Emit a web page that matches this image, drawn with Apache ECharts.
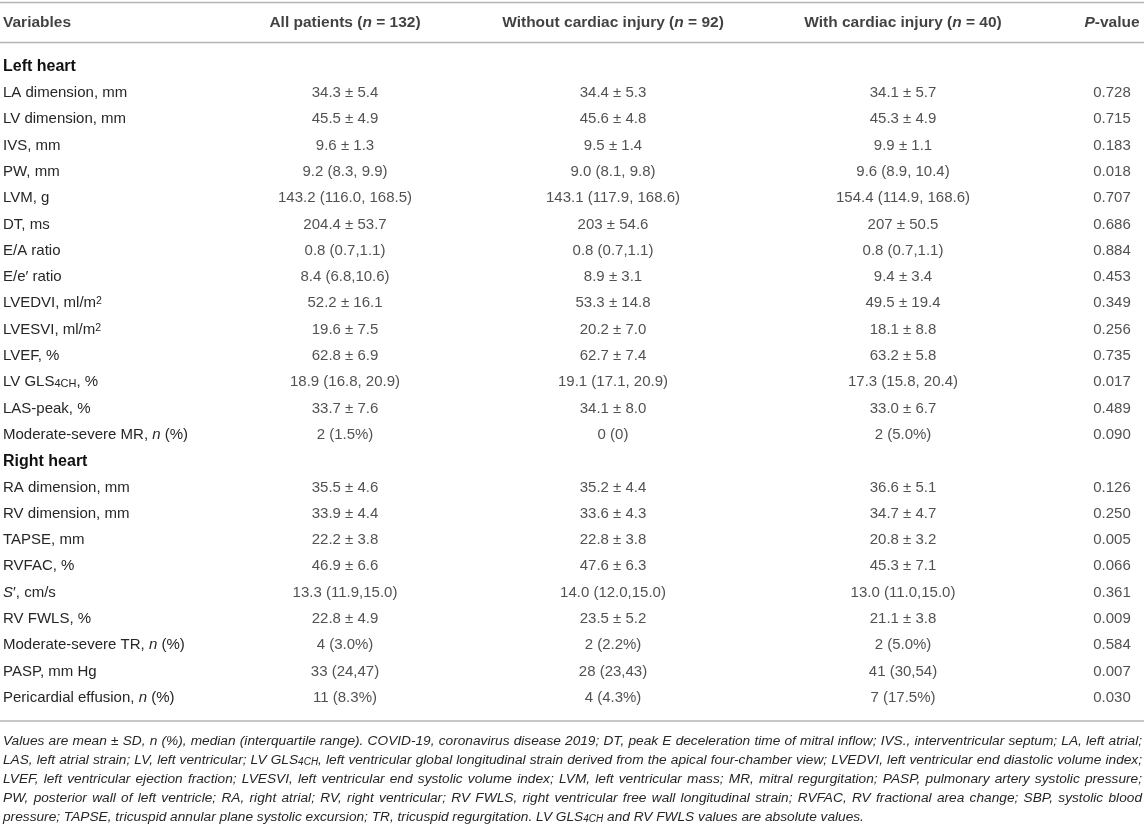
<!DOCTYPE html>
<html>
<head>
<meta charset="utf-8">
<script src="https://cdn.jsdelivr.net/npm/echarts@6/dist/echarts.min.js"></script>
<style>
  html, body { margin: 0; padding: 0; background: #fff; }
  #main { width: 1144px; height: 829px; }
</style>
</head>
<body>
<div id="main"></div>
<script>
// table content
var headers = ['Variables', 'All patients (n = 132)', 'Without cardiac injury (n = 92)', 'With cardiac injury (n = 40)', 'P-value'];
var sectionRows = ['Left heart', 'Right heart'];
var rowLabels = [
  'Left heart', 'LA dimension, mm', 'LV dimension, mm', 'IVS, mm', 'PW, mm', 'LVM, g', 'DT, ms',
  'E/A ratio', 'E/e′ ratio', 'LVEDVI, ml/m2', 'LVESVI, ml/m2', 'LVEF, %', 'LV GLS4CH, %',
  'LAS-peak, %', 'Moderate-severe MR, n (%)',
  'Right heart', 'RA dimension, mm', 'RV dimension, mm', 'TAPSE, mm', 'RVFAC, %', 'S′, cm/s',
  'RV FWLS, %', 'Moderate-severe TR, n (%)', 'PASP, mm Hg', 'Pericardial effusion, n (%)'
];
var allPatients = ['', '34.3 ± 5.4', '45.5 ± 4.9', '9.6 ± 1.3', '9.2 (8.3, 9.9)', '143.2 (116.0, 168.5)', '204.4 ± 53.7',
  '0.8 (0.7,1.1)', '8.4 (6.8,10.6)', '52.2 ± 16.1', '19.6 ± 7.5', '62.8 ± 6.9', '18.9 (16.8, 20.9)',
  '33.7 ± 7.6', '2 (1.5%)',
  '', '35.5 ± 4.6', '33.9 ± 4.4', '22.2 ± 3.8', '46.9 ± 6.6', '13.3 (11.9,15.0)',
  '22.8 ± 4.9', '4 (3.0%)', '33 (24,47)', '11 (8.3%)'];
var withoutInjury = ['', '34.4 ± 5.3', '45.6 ± 4.8', '9.5 ± 1.4', '9.0 (8.1, 9.8)', '143.1 (117.9, 168.6)', '203 ± 54.6',
  '0.8 (0.7,1.1)', '8.9 ± 3.1', '53.3 ± 14.8', '20.2 ± 7.0', '62.7 ± 7.4', '19.1 (17.1, 20.9)',
  '34.1 ± 8.0', '0 (0)',
  '', '35.2 ± 4.4', '33.6 ± 4.3', '22.8 ± 3.8', '47.6 ± 6.3', '14.0 (12.0,15.0)',
  '23.5 ± 5.2', '2 (2.2%)', '28 (23,43)', '4 (4.3%)'];
var withInjury = ['', '34.1 ± 5.7', '45.3 ± 4.9', '9.9 ± 1.1', '9.6 (8.9, 10.4)', '154.4 (114.9, 168.6)', '207 ± 50.5',
  '0.8 (0.7,1.1)', '9.4 ± 3.4', '49.5 ± 19.4', '18.1 ± 8.8', '63.2 ± 5.8', '17.3 (15.8, 20.4)',
  '33.0 ± 6.7', '2 (5.0%)',
  '', '36.6 ± 5.1', '34.7 ± 4.7', '20.8 ± 3.2', '45.3 ± 7.1', '13.0 (11.0,15.0)',
  '21.1 ± 3.8', '2 (5.0%)', '41 (30,54)', '7 (17.5%)'];
var pValues = ['', '0.728', '0.715', '0.183', '0.018', '0.707', '0.686',
  '0.884', '0.453', '0.349', '0.256', '0.735', '0.017',
  '0.489', '0.090',
  '', '0.126', '0.250', '0.005', '0.066', '0.361',
  '0.009', '0.584', '0.007', '0.030'];
var footnote = [
  'Values are mean ± SD, n (%), median (interquartile range). COVID-19, coronavirus disease 2019; DT, peak E deceleration time of mitral inflow; IVS., interventricular septum; LA, left atrial;',
  'LAS, left atrial strain; LV, left ventricular; LV GLS4CH, left ventricular global longitudinal strain derived from the apical four-chamber view; LVEDVI, left ventricular end diastolic volume index;',
  'LVEF, left ventricular ejection fraction; LVESVI, left ventricular end systolic volume index; LVM, left ventricular mass; MR, mitral regurgitation; PASP, pulmonary artery systolic pressure;',
  'PW, posterior wall of left ventricle; RA, right atrial; RV, right ventricular; RV FWLS, right ventricular free wall longitudinal strain; RVFAC, RV fractional area change; SBP, systolic blood',
  'pressure; TAPSE, tricuspid annular plane systolic excursion; TR, tricuspid regurgitation. LV GLS4CH and RV FWLS values are absolute values.'
];

// layout
var W = 1144;
var FONT = 'Liberation Sans';
var INK = '#262626';
var RULE = '#b4b4b4';
var colX = [345, 613, 903, 1112];
var columns = [allPatients, withoutInjury, withInjury, pValues];

var richBody = {
  i:   { fontFamily: FONT, fontSize: 15, color: INK, fontStyle: 'italic' },
  b:   { fontFamily: FONT, fontSize: 16, color: '#111', fontWeight: 'bold' },
  sub: { fontFamily: FONT, fontSize: 11, color: INK, verticalAlign: 'bottom', lineHeight: 11 },
  sup: { fontFamily: FONT, fontSize: 10.5, color: INK, verticalAlign: 'top', lineHeight: 11 }
};
var richHead = {
  b:  { fontFamily: FONT, fontSize: 15.5, color: '#111', fontWeight: 'bold' },
  bi: { fontFamily: FONT, fontSize: 15.5, color: '#111', fontWeight: 'bold', fontStyle: 'italic' }
};

function fmtRow(s) {
  if (sectionRows.indexOf(s) >= 0) return '{b|' + s + '}';
  return s.replace('ml/m2', 'ml/m{sup|2}')
    .replace('GLS4CH', 'GLS{sub|4CH}')
    .replace(', n (%)', ', {i|n} (%)')
    .replace(/^S′/, '{i|S}′');
}
function fmtHead(s) {
  if (s === 'P-value') return '{bi|P}{b|-value}';
  var m = s.match(/^(.*\()n( = .*)$/);
  if (m) return '{b|' + m[1] + '}{bi|n}{b|' + m[2] + '}';
  return '{b|' + s + '}';
}

var series = columns.map(function (col, c) {
  var data = [];
  col.forEach(function (v, i) { if (v) data.push([colX[c], i, v]); });
  return {
    type: 'scatter', xAxisIndex: 0, yAxisIndex: 0,
    symbolSize: 1, itemStyle: { color: 'rgba(0,0,0,0)' }, silent: true,
    data: data,
    label: {
      show: true, position: 'inside', align: 'center', verticalAlign: 'middle',
      fontFamily: FONT, fontSize: 15, color: INK,
      formatter: function (p) { return p.value[2]; }
    }
  };
});
series.push({
  type: 'scatter', xAxisIndex: 1, yAxisIndex: 1,
  symbolSize: 1, itemStyle: { color: 'rgba(0,0,0,0)' }, silent: true,
  data: headers.map(function (h, k) {
    return {
      value: [k === 0 ? 3 : colX[k - 1], 0, h],
      label: { align: k === 0 ? 'left' : 'center' }
    };
  }),
  label: {
    show: true, position: 'inside', verticalAlign: 'middle',
    fontFamily: FONT, fontSize: 15.5, fontWeight: 'bold', color: '#111',
    rich: richHead,
    formatter: function (p) { return fmtHead(p.value[2]); }
  }
});

// footnote, justified word by word
var FN_SIZE = 13.7, FN_SUB = 10;
var ctx = document.createElement('canvas').getContext('2d');
function tw(t, size) {
  ctx.font = 'italic ' + size + 'px "' + FONT + '"';
  return ctx.measureText(t).width;
}
function wordW(w) {
  var k = w.indexOf('4CH');
  if (k < 0) return tw(w, FN_SIZE);
  return tw(w.slice(0, k), FN_SIZE) + tw('4CH', FN_SUB) + tw(w.slice(k + 3), FN_SIZE);
}
var fnEls = [];
footnote.forEach(function (line, li) {
  var words = line.split(' ');
  var widths = words.map(wordW);
  var sum = widths.reduce(function (a, b) { return a + b; }, 0);
  var last = li === footnote.length - 1;
  var gap = last ? tw(' ', FN_SIZE) : Math.max(1, (W - 5 - sum) / (words.length - 1));
  var x = 3;
  words.forEach(function (w, k) {
    fnEls.push({
      type: 'text', x: x, y: 741 + li * 19, silent: true,
      style: {
        text: w.replace('4CH', '{sub|4CH}'),
        fontFamily: FONT, fontSize: FN_SIZE, fontStyle: 'italic', fill: INK,
        verticalAlign: 'middle',
        rich: { sub: { fontFamily: FONT, fontSize: FN_SUB, fontStyle: 'italic', fill: INK, verticalAlign: 'bottom', lineHeight: 9 } }
      }
    });
    x += widths[k] + gap;
  });
});

function rule(y) {
  return { type: 'line', silent: true, shape: { x1: 0, y1: y, x2: W, y2: y }, style: { stroke: RULE, lineWidth: 1.6 } };
}

var myChart = echarts.init(document.getElementById('main'));
var option = {
  animation: false,
  grid: [
    { left: 0, right: 0, top: 53.5, height: 657.5 },
    { left: 0, right: 0, top: 3, height: 39 }
  ],
  xAxis: [
    { type: 'value', gridIndex: 0, min: 0, max: W, show: false },
    { type: 'value', gridIndex: 1, min: 0, max: W, show: false }
  ],
  yAxis: [
    {
      type: 'category', gridIndex: 0, inverse: true, data: rowLabels,
      axisLine: { show: false }, axisTick: { show: false }, splitLine: { show: false },
      axisLabel: {
        inside: true, margin: 3, align: 'left', interval: 0,
        fontFamily: FONT, fontSize: 15, color: INK,
        rich: richBody,
        formatter: fmtRow
      }
    },
    { type: 'category', gridIndex: 1, data: ['header'], show: false }
  ],
  series: series,
  graphic: [rule(2.5), rule(42.5), rule(721)].concat(fnEls)
};
myChart.setOption(option);
</script>
</body>
</html>
